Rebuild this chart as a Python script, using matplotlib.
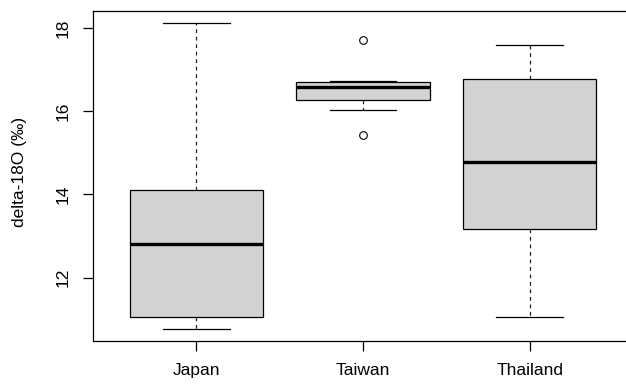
import matplotlib
matplotlib.use("Agg")
import matplotlib.pyplot as plt

plt.rcParams['font.family'] = ['Liberation Sans', 'DejaVu Sans']

# box statistics (delta-18O, per mil)
countries = ['Japan', 'Taiwan', 'Thailand']
q1 = [11.05, 16.28, 13.16]
med = [12.80, 16.58, 14.77]
q3 = [14.10, 16.71, 16.78]
whis_lo = [10.77, 16.04, 11.06]
whis_hi = [18.12, 16.73, 17.60]
outliers = [[], [17.71, 15.42], []]

stats = []
for i, name in enumerate(countries):
    stats.append(dict(label=name, q1=q1[i], med=med[i], q3=q3[i],
                      whislo=whis_lo[i], whishi=whis_hi[i], fliers=outliers[i]))

fig = plt.figure(figsize=(6.26, 3.85), dpi=100)
# right edge of frame runs past the image like in the reference
ax = fig.add_axes([93 / 626, 1 - 341 / 385, (633 - 93) / 626, (341 - 11) / 385])

ax.bxp(stats, positions=[1, 2, 3], widths=0.8, patch_artist=True,
       boxprops=dict(facecolor='#D3D3D3', edgecolor='black', linewidth=0.9),
       medianprops=dict(color='black', linewidth=2.4, solid_capstyle='butt'),
       whiskerprops=dict(color='#222222', linestyle=(0, (3, 3)), linewidth=0.9),
       capprops=dict(color='black', linewidth=0.9),
       flierprops=dict(marker='o', markerfacecolor='none', markeredgecolor='black',
                       markersize=5.5, markeredgewidth=0.8),
       capwidths=0.4)

ax.set_xlim(0.38, 3.62)
ax.set_ylim(10.476, 18.414)
ax.set_yticks([12, 14, 16, 18])
ax.set_xticks([1, 2, 3])
ax.set_xticklabels(countries)
ax.tick_params(axis='both', direction='out', length=7, width=0.9, labelsize=12.5, pad=9)
for lab in ax.get_yticklabels():
    lab.set_rotation(90)
    lab.set_va('center')
ax.set_ylabel('delta-18O (‰)', fontsize=12.5)
ax.yaxis.set_label_coords((27 - 93) / 540, 0.512)
for sp in ax.spines.values():
    sp.set_linewidth(0.9)

fig.savefig('out.png', dpi=100)
